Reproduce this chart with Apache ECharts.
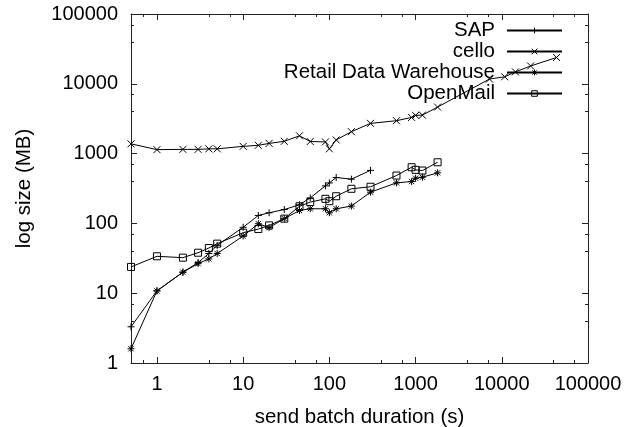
<!DOCTYPE html>
<html>
<head>
<meta charset="utf-8">
<script src="https://cdn.jsdelivr.net/npm/echarts@6/dist/echarts.min.js"></script>
<style>
  html, body { margin: 0; padding: 0; background: #fff; }
  #container { width: 624px; height: 427px; }
</style>
</head>
<body>
<div id="container"></div>
<script type="text/javascript">
    // send batch duration (s)
    var sapX = [0.5, 1, 2, 3, 4, 5, 10, 15, 20, 30, 45, 60, 90, 100, 120, 180, 300];
    var sapY = [3.3, 10.8, 20, 27.5, 37, 48.5, 88, 130, 142, 158, 185, 232, 345, 380, 455, 430, 575];

    var celloX = [0.5, 1, 2, 3, 4, 5, 10, 15, 20, 30, 45, 60, 90, 100, 120, 180, 300, 600, 900, 1000, 1200, 1800, 7200, 10800, 14400, 21600, 43200];
    var celloY = [1380, 1140, 1150, 1150, 1170, 1170, 1270, 1315, 1400, 1500, 1800, 1490, 1470, 1170, 1570, 2060, 2710, 2960, 3300, 3530, 3560, 4640, 11700, 12600, 14800, 18000, 23800];

    var retailX = [0.5, 1, 2, 3, 4, 5, 10, 15, 20, 30, 45, 60, 90, 100, 120, 180, 300, 600, 900, 1000, 1200, 1800];
    var retailY = [1.6, 10.8, 20, 26.5, 31, 37, 66, 99, 87, 117, 153, 162, 162, 142, 162, 177, 280, 381, 398, 444, 459, 530];

    var mailX = [0.5, 1, 2, 3, 4, 5, 10, 15, 20, 30, 45, 60, 90, 100, 120, 180, 300, 600, 900, 1000, 1200, 1800];
    var mailY = [23.8, 33.8, 32.3, 38, 44.4, 51.3, 73.6, 83, 93.6, 117, 176, 202, 225, 208, 245, 313, 335, 485, 638, 585, 572, 751];

    var names = ['SAP', 'cello', 'Retail Data Warehouse', 'OpenMail'];

    function pairs(xs, ys) {
        return xs.map(function (x, i) { return [x, ys[i]]; });
    }

    var FONT = 'Liberation Sans, Arial, sans-serif';
    var AXIS_COLOR = '#222';

    // only label powers of ten
    function decade(v) {
        var l = Math.log10(v);
        return Math.abs(l - Math.round(l)) < 1e-6 ? String(Math.round(v)) : '';
    }

    function logAxis(pos, min, max, withLabel, margin, extra) {
        var ax = {
            type: 'log',
            logBase: 10,
            position: pos,
            min: min,
            max: max,
            axisLine: { show: true, onZero: false, lineStyle: { color: AXIS_COLOR, width: 1 } },
            axisTick: { show: true, inside: true, length: 6, lineStyle: { color: AXIS_COLOR } },
            minorTick: { show: true, splitNumber: 3, length: 3, lineStyle: { color: AXIS_COLOR } },
            splitLine: { show: false },
            axisLabel: {
                show: withLabel,
                formatter: decade,
                color: '#000',
                fontSize: 20,
                fontFamily: FONT,
                margin: margin,
                showMinLabel: true,
                showMaxLabel: true
            }
        };
        for (var k in extra) ax[k] = extra[k];
        return ax;
    }

    var plusPath = 'path://M0,4H8M4,0V8';
    var crossPath = 'path://M0,0L8,8M0,8L8,0';
    var starPath = 'path://M0,4H8M4,0V8M1,1L7,7M1,7L7,1';

    function lineSeries(name, data, symbol, size) {
        return {
            name: name,
            type: 'line',
            data: data,
            symbol: symbol,
            symbolSize: size,
            showAllSymbol: true,
            lineStyle: { color: '#000', width: 1 },
            itemStyle: { color: 'none', borderColor: '#000', borderWidth: 1 },
            emphasis: { disabled: true }
        };
    }

    var dom = document.getElementById('container');
    var myChart = echarts.init(dom);

    var option = {
        animation: false,
        backgroundColor: '#fff',
        grid: { left: 131, right: 36, top: 14, bottom: 64, containLabel: false, outerBoundsMode: 'none' },
        legend: {
            data: names,
            orient: 'vertical',
            align: 'right',
            right: 61,
            top: 20,
            padding: 0,
            itemGap: 0,
            itemWidth: 55,
            itemHeight: 7,
            itemStyle: { color: 'none', borderColor: '#000', borderWidth: 1 },
            textStyle: { color: '#000', fontSize: 20.5, fontFamily: FONT, lineHeight: 16, padding: [0, 7, 0, 0] }
        },
        xAxis: [
            logAxis('bottom', 0.5, 100000, true, 11, {
                name: 'send batch duration (s)',
                nameLocation: 'middle',
                nameGap: 44,
                nameTextStyle: { color: '#000', fontSize: 20.5, fontFamily: FONT }
            }),
            logAxis('top', 0.5, 100000, false, 8, {})
        ],
        yAxis: [
            logAxis('left', 1, 100000, true, 13, {
                name: 'log size (MB)',
                nameLocation: 'middle',
                nameGap: 96,
                nameRotate: 90,
                nameTextStyle: { color: '#000', fontSize: 20.5, fontFamily: FONT }
            }),
            logAxis('right', 1, 100000, false, 8, {})
        ],
        series: [
            lineSeries(names[0], pairs(sapX, sapY), plusPath, 7),
            lineSeries(names[1], pairs(celloX, celloY), crossPath, 7),
            lineSeries(names[2], pairs(retailX, retailY), starPath, 7),
            lineSeries(names[3], pairs(mailX, mailY), 'rect', 7)
        ]
    };

    if (option && typeof option === 'object') {
        myChart.setOption(option);
    }
</script>
</body>
</html>
